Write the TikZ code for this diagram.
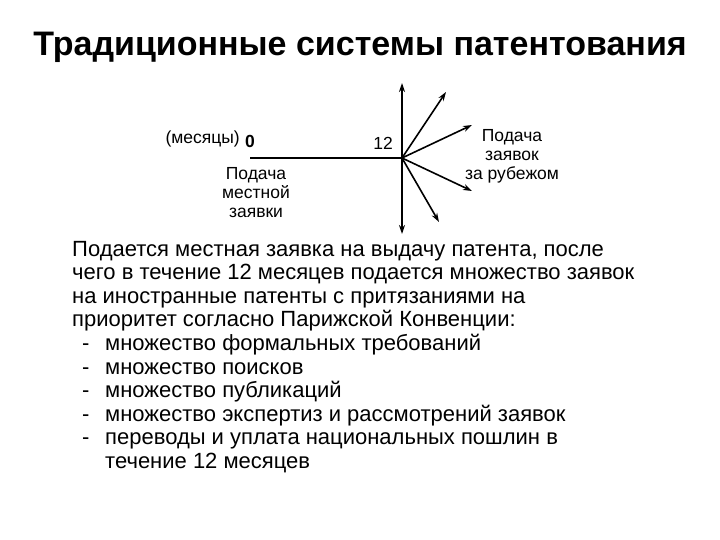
\documentclass[tikz,border=0pt]{standalone}
\usepackage{fontspec}
\setmainfont{Liberation Sans}
\usetikzlibrary{arrows.meta}
\begin{document}
\begin{tikzpicture}[x=1pt,y=-1pt,
  arr/.style={line width=1.6pt,-{Stealth[length=9pt,width=6pt]}},
  lbl/.style={font=\fontsize{17.5}{19}\selectfont,align=center,inner sep=0},
  body/.style={font=\fontsize{22}{23.6}\selectfont,anchor=base west,inner sep=0}]
\useasboundingbox[fill=white] (0,0) rectangle (720,540);
\node[font=\bfseries\fontsize{34}{38}\selectfont] (title) at (360,47) {Традиционные системы патентования};
\coordinate (o) at (402,158);
\coordinate (s) at (250,158);
\draw[line width=1.6pt] (s) -- (o);
\coordinate (t1) at (402,83); \coordinate (t2) at (402,234);
\coordinate (t3) at (446,92); \coordinate (t4) at (472,125);
\coordinate (t5) at (472,191); \coordinate (t6) at (439,222);
\foreach \t in {t1,t2,t3,t4,t5,t6} \draw[arr] (o) -- (\t);
\node[lbl,anchor=east] (m) at (240,139) {(месяцы)};
\node[lbl,font=\bfseries\fontsize{17.5}{19}\selectfont] (z) at (250,141) {0};
\node[lbl] (tw) at (383,143) {12};
\node[lbl] (loc) at (256,193) {Подача\\местной\\заявки};
\node[lbl] (abr) at (512,156) {Подача\\заявок\\за рубежом};
\foreach \txt [count=\i from 0] in {Подается местная заявка на выдачу патента{,} после,чего в течение 12 месяцев подается множество заявок,на иностранные патенты с притязаниями на,приоритет согласно Парижской Конвенции:}
  \node[body] (p\i) at (72,256+23.6*\i) {\txt};
\foreach \txt [count=\i from 0] in {множество формальных требований,множество поисков,множество публикаций,множество экспертиз и рассмотрений заявок,переводы и уплата национальных пошлин в,течение 12 месяцев}
  \node[body] (l\i) at (105,350.4+23.6*\i) {\txt};
\foreach \i in {0,...,4}
  \node[body] (d\i) at (82,350.4+23.6*\i) {-};
\end{tikzpicture}
\end{document}
